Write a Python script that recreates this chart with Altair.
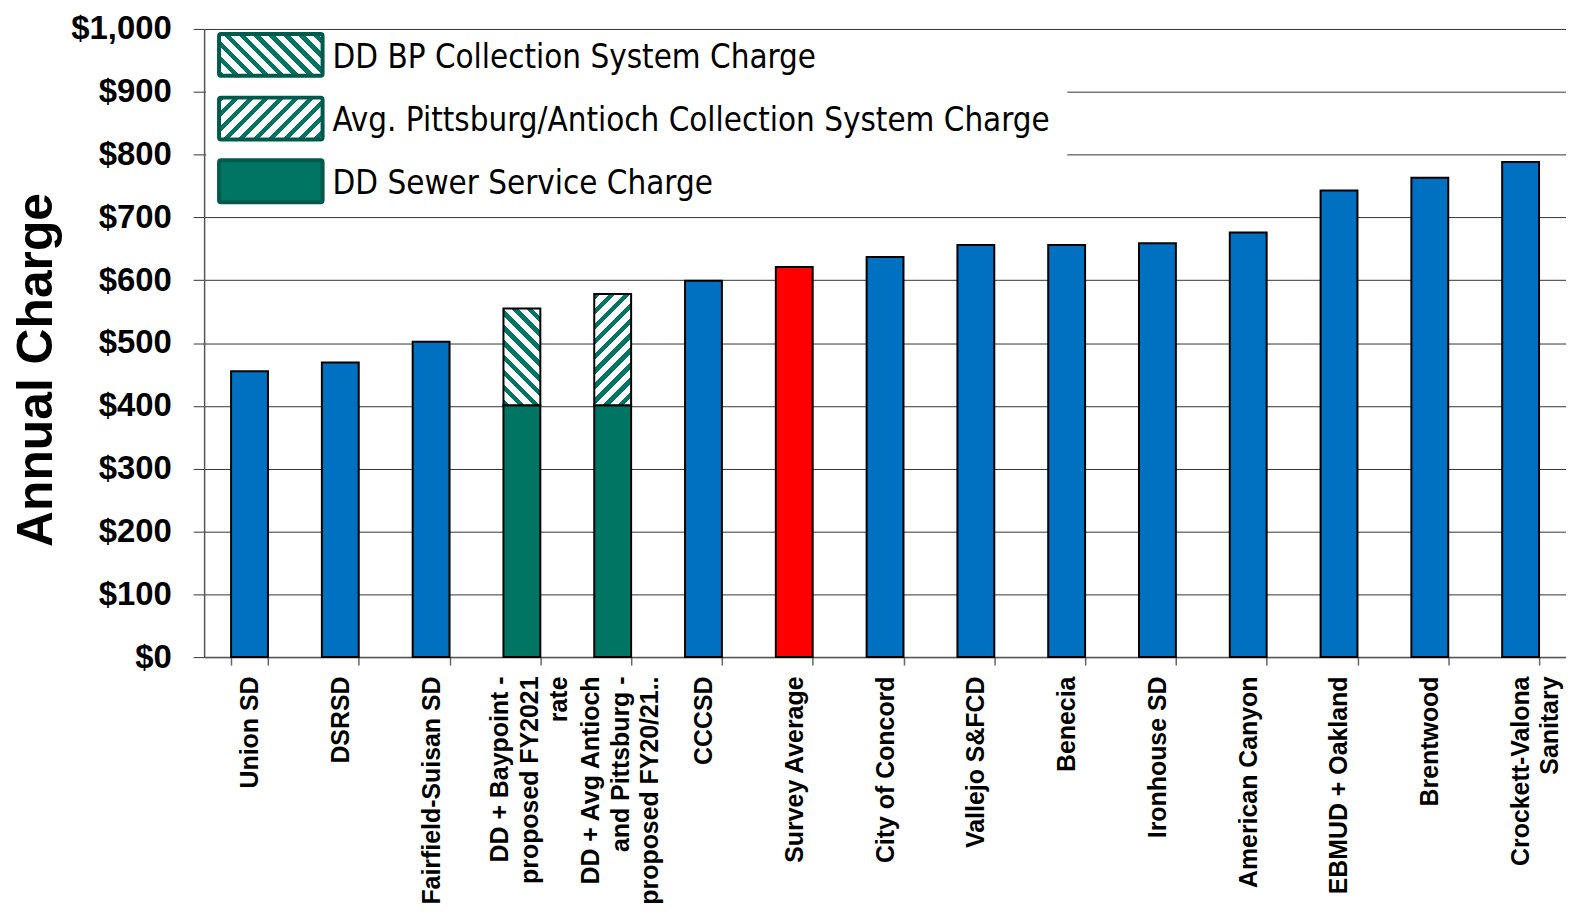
import math
import altair as alt
import pandas as pd

# ---------------- data ----------------
categories = [
    "Union SD", "DSRSD", "Fairfield-Suisan SD",
    "DD + Baypoint -|proposed FY2021|rate",
    "DD + Avg Antioch|and Pittsburg -|proposed FY20/21..",
    "CCCSD", "Survey Average", "City of Concord", "Vallejo S&FCD", "Benecia",
    "Ironhouse SD", "American Canyon", "EBMUD + Oakland", "Brentwood",
    "Crockett-Valona|Sanitary",
]
sewer_charge = [455, 469, 502, 401, 401, 599, 621, 637, 656, 656, 659, 676, 743, 763, 788]
bp_collection = [0, 0, 0, 154, 0, 0, 0, 0, 0, 0, 0, 0, 0, 0, 0]
avg_pa_collection = [0, 0, 0, 0, 177, 0, 0, 0, 0, 0, 0, 0, 0, 0, 0]
groups = ["agency", "agency", "agency", "dd", "dd", "agency", "average", "agency",
          "agency", "agency", "agency", "agency", "agency", "agency", "agency"]
legend_labels = [
    "DD BP Collection System Charge",
    "Avg. Pittsburg/Antioch Collection System Charge",
    "DD Sewer Service Charge",
]

# ---------------- styling ----------------
BLUE, RED, TEAL, TEAL_DARK = "#0070C0", "#FF0000", "#007563", "#005a4c"
W, H = 1368, 631
Y_MAX = 1000
PAD_INNER = 0.594
STEP = W / len(categories)
BAR_W = STEP * (1 - PAD_INNER)
FONT = "Liberation Sans"
NARROW = "Liberation Sans Narrow, Arial Narrow, DejaVu Sans Condensed, Open Sans Condensed, Roboto Condensed, Liberation Sans"


def stripes(w, h, direction, color=TEAL, bg="white", period=15.0, duty=0.42):
    """Linear gradient with hard stops that draws 45-degree stripes."""
    s = (w + h) / (w * w + h * h)
    if direction == "\\":
        x1, y1, x2, y2 = 0, 1, s * w, 1 - s * h
    else:
        x1, y1, x2, y2 = 0, 0, s * w, s * h
    L = w + h
    stops = []
    k = 0
    while k * period < L:
        a = k * period / L
        b = min(1.0, (k * period + duty * period) / L)
        stops += [
            {"offset": a, "color": bg},
            {"offset": a, "color": color},
            {"offset": b, "color": color},
            {"offset": b, "color": bg},
        ]
        k += 1
    stops.append({"offset": 1.0, "color": bg})
    return alt.LinearGradient(gradient="linear", stops=stops, x1=x1, y1=y1, x2=x2, y2=y2)


df = pd.DataFrame({
    "cat": categories,
    "sewer": sewer_charge,
    "bp": bp_collection,
    "avg": avg_pa_collection,
    "group": groups,
})
df["top_bp"] = df["sewer"] + df["bp"]
df["top_avg"] = df["sewer"] + df["avg"]

x_enc = alt.X(
    "cat:N", sort=categories, title=None,
    scale=alt.Scale(paddingInner=PAD_INNER, paddingOuter=PAD_INNER / 2),
    axis=alt.Axis(
        labelExpr="split(datum.label, '|')",
        labelAngle=270, labelAlign="right", labelBaseline="middle",
        labelOffset={"condition": {"test": "length(split(datum.label, '|')) == 3", "value": -22},
                     "value": 0},
        labelFont=FONT, labelFontWeight="bold", labelFontSize=25,
        labelLineHeight=29.5, labelColor="black", labelLimit=0, labelPadding=11,
        labelOverlap=False,
        tickBand="extent", tickSize=8, tickColor="#666", tickWidth=1.5,
        domainColor="#555", domainWidth=1.5, grid=False,
    ),
)
y_scale = alt.Scale(domain=[0, Y_MAX], nice=False)
y_axis = alt.Axis(
    values=list(range(0, 1001, 100)), format="$,.0f",
    labelFont=FONT, labelFontWeight="bold", labelFontSize=33, labelColor="black",
    labelPadding=22, tickSize=11, tickColor="#333", tickWidth=1,
    domainColor="#555", domainWidth=1.5,
    grid=True, gridColor="#333", gridWidth=1, gridOpacity=1,
    title="Annual Charge", titleFont=FONT, titleFontWeight="bold", titleFontSize=50,
    titleColor="black", titleAngle=270, titleAlign="center", titleBaseline="middle",
    titleX=-168, titleY=342,
)

base = alt.Chart(df).mark_bar(stroke="black", strokeWidth=2).encode(
    x=x_enc,
    y=alt.Y("sewer:Q", scale=y_scale, axis=y_axis),
    color=alt.Color("group:N", legend=None,
                    scale=alt.Scale(domain=["agency", "average", "dd"], range=[BLUE, RED, TEAL])),
)

px_per_unit = H / Y_MAX
bp_df = df[df["bp"] > 0]
avg_df = df[df["avg"] > 0]
bp_h = float(bp_df["bp"].iloc[0]) * px_per_unit
avg_h = float(avg_df["avg"].iloc[0]) * px_per_unit

bp_bar = alt.Chart(bp_df).mark_bar(
    stroke="black", strokeWidth=2, fill=stripes(BAR_W, bp_h, "\\")
).encode(x=alt.X("cat:N", sort=categories), y="sewer:Q", y2="top_bp:Q")

avg_bar = alt.Chart(avg_df).mark_bar(
    stroke="black", strokeWidth=2, fill=stripes(BAR_W, avg_h, "/")
).encode(x=alt.X("cat:N", sort=categories), y="sewer:Q", y2="top_avg:Q")

# ---------------- legend (drawn in the plot area) ----------------
one = pd.DataFrame({"k": [0]})
legend_bg = alt.Chart(one).mark_rect(fill="white", stroke=None).encode(
    x=alt.value(2), x2=alt.value(867), y=alt.value(3), y2=alt.value(185)
)

sw_w, sw_h = 104, 42
swatch_y = [5, 69, 132]
sw_fills = [stripes(sw_w, sw_h, "\\", period=15), stripes(sw_w, sw_h, "/", period=15), TEAL]
swatches = []
for yy, fill in zip(swatch_y, sw_fills):
    swatches.append(
        alt.Chart(one).mark_rect(fill=fill, stroke=TEAL_DARK, strokeWidth=4, cornerRadius=2).encode(
            x=alt.value(15), x2=alt.value(15 + sw_w), y=alt.value(yy), y2=alt.value(yy + sw_h)
        )
    )

texts = []
for yy, lab in zip(swatch_y, legend_labels):
    texts.append(
        alt.Chart(pd.DataFrame({"t": [lab]})).mark_text(
            align="left", baseline="middle",
            font=NARROW, fontSize=33, color="black",
        ).encode(x=alt.value(129), y=alt.value(yy + sw_h / 2 + 3), text="t:N")
    )

chart = alt.layer(base, bp_bar, avg_bar, legend_bg, *swatches, *texts).properties(
    width=W, height=H,
    padding={"left": 197, "top": 19, "right": 0, "bottom": 256},
    autosize=alt.AutoSizeParams(type="none"),
).configure_view(stroke=None)

chart.save("out.html", embed_options={"renderer": "svg", "actions": False})
